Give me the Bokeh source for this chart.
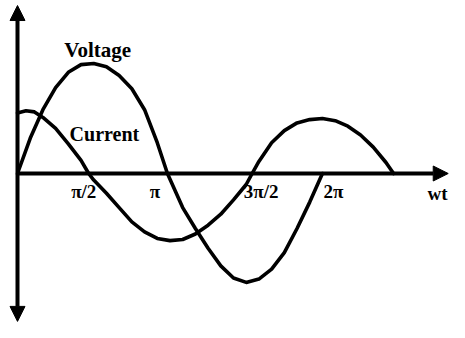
from bokeh.plotting import figure
from bokeh.models import Range1d, Arrow, NormalHead, ColumnDataSource
from bokeh.core.properties import value
from bokeh.embed import file_html
from bokeh.resources import INLINE

# ---- data (angle in degrees, amplitude relative to the voltage peak) ----
voltage_deg = [0, 15, 30, 45, 60, 75, 90, 105, 120, 135, 150, 165, 177,
               195, 210, 225, 240, 255, 270, 285, 300, 315, 330, 345, 360]
voltage_val = [0, 0.32, 0.58, 0.78, 0.92, 0.99, 1.0, 0.97, 0.89, 0.77, 0.58, 0.28, 0,
               -0.31, -0.50, -0.68, -0.84, -0.95, -0.99, -0.96, -0.87, -0.72, -0.50, -0.26, 0]

current_deg = [0, 10, 20, 30, 45, 60, 75, 84, 90, 105, 120, 135, 150, 165, 180,
               195, 210, 225, 240, 255, 270, 277, 285, 300, 315, 330, 345, 360,
               375, 390, 405, 420, 435, 444]
current_val = [0.55, 0.57, 0.56, 0.51, 0.41, 0.27, 0.12, 0, -0.06, -0.18, -0.31, -0.44,
               -0.53, -0.59, -0.61, -0.60, -0.55, -0.47, -0.37, -0.24, -0.10, 0, 0.11,
               0.28, 0.39, 0.46, 0.49, 0.50, 0.48, 0.43, 0.35, 0.24, 0.10, 0]

tick_deg = [90, 180, 270, 360]
tick_labels = ["π/2", "π", "3π/2", "2π"]
axis_label = "wt"
series_names = ["Voltage", "Current"]

# ---- figure ----
W, H = 449, 322
p = figure(width=W, height=H, x_range=Range1d(-20.07, 510.0), y_range=Range1d(-1.3545, 1.5727),
           output_backend="svg", toolbar_location=None, min_border=0,
           x_axis_location=None, y_axis_location=None)
p.grid.visible = False
p.outline_line_color = None
p.background_fill_color = "white"
p.border_fill_color = "white"

INK = "#000000"
FONT = "Liberation Serif"

# axes drawn as arrows
p.add_layout(Arrow(x_start=0, y_start=0, x_end=p.x_range.end - 1.5, y_end=0,
                   line_width=4, line_color=INK,
                   end=NormalHead(size=15, fill_color=INK, line_color=INK, line_width=1)))
p.add_layout(Arrow(x_start=0, y_start=p.y_range.start + 0.01, x_end=0, y_end=1.527,
                   line_width=4, line_color=INK,
                   start=NormalHead(size=15, fill_color=INK, line_color=INK, line_width=1),
                   end=NormalHead(size=15, fill_color=INK, line_color=INK, line_width=1)))

# curves
p.line(voltage_deg, voltage_val, line_width=3.6, line_color=INK, line_join="round", line_cap="round")
p.line(current_deg, current_val, line_width=3.6, line_color=INK, line_join="round", line_cap="round")

# tick labels
tick_src = ColumnDataSource(dict(x=tick_deg, y=[0] * len(tick_deg), text=tick_labels,
                                 dx=[-10, -15, 15, 11]))
p.text(x="x", y="y", text="text", source=tick_src, x_offset="dx", y_offset=18,
       text_align="center", text_baseline="alphabetic",
       text_font=value(FONT), text_font_style="bold", text_font_size="19px", text_color=INK)

# axis name
p.text(x=[p.x_range.end], y=[0], text=[axis_label], x_offset=-2, y_offset=20,
       text_align="right", text_baseline="alphabetic",
       text_font=value(FONT), text_font_style="bold", text_font_size="19px", text_color=INK)

# series names
vi = voltage_val.index(max(voltage_val))
p.text(x=[voltage_deg[vi]], y=[voltage_val[vi]], text=[series_names[0]], x_offset=4, y_offset=-13,
       text_align="center", text_baseline="alphabetic",
       text_font=value(FONT), text_font_style="bold", text_font_size="21px", text_color=INK)
p.text(x=[61.5], y=[0.318], text=[series_names[1]], y_offset=-5,
       text_align="left", text_baseline="alphabetic",
       text_font=value(FONT), text_font_style="bold", text_font_size="20px", text_color=INK)

open("out.html", "w").write(file_html(p, INLINE))
